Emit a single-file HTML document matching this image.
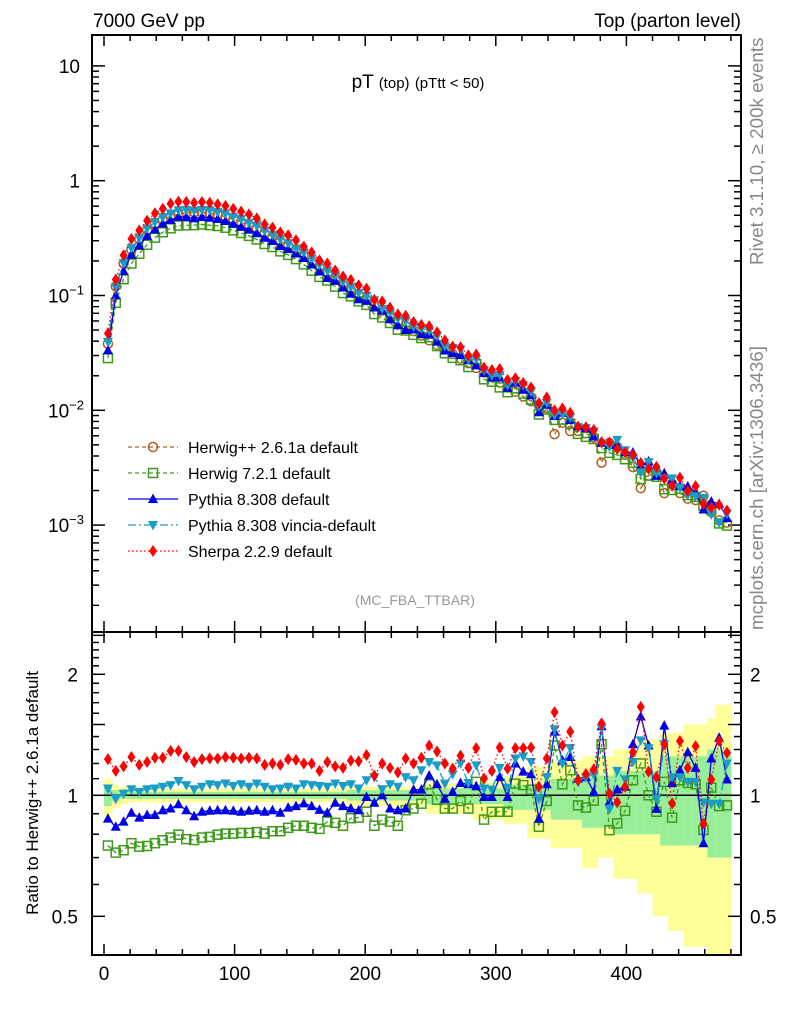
<!DOCTYPE html>
<html><head><meta charset="utf-8"><style>
html,body{margin:0;padding:0;background:#fff;}
svg{display:block;font-family:"Liberation Sans",sans-serif;}
</style></head><body>
<svg id="chart" width="786" height="1024" viewBox="0 0 786 1024" xmlns="http://www.w3.org/2000/svg">
<defs>
<clipPath id="clipMain"><rect x="92" y="35" width="649" height="597"/></clipPath>
<clipPath id="clipRatio"><rect x="92" y="632" width="649" height="323"/></clipPath>
</defs>
<rect x="0" y="0" width="786" height="1024" fill="#fff"/>
<g id="ratioBands" clip-path="url(#clipRatio)"></g>
<g id="axes"></g>
<g id="mainData" clip-path="url(#clipMain)"></g>
<g id="ratioData" clip-path="url(#clipRatio)"></g>
<text x="93" y="27" font-size="19">7000 GeV pp</text>
<text x="741" y="27" font-size="19" text-anchor="end">Top (parton level)</text>
<text x="418" y="88" font-size="19" text-anchor="middle">pT <tspan font-size="15">(top)</tspan> <tspan font-size="15">(pTtt &lt; 50)</tspan></text>
<text x="415" y="605" font-size="14" fill="#999" text-anchor="middle">(MC_FBA_TTBAR)</text>
<text transform="translate(763,265) rotate(-90)" font-size="18.8" fill="#888">Rivet 3.1.10, ≥ 200k events</text>
<text transform="translate(763,630) rotate(-90)" font-size="18.8" fill="#888">mcplots.cern.ch [arXiv:1306.3436]</text>
<text transform="translate(38,793) rotate(-90)" font-size="17" text-anchor="middle">Ratio to Herwig++ 2.6.1a default</text>
<g id="legend"></g>
</svg>
<script>
const NS="http://www.w3.org/2000/svg";
const binCenters=[3,9,15,21,27,33,39,45,51,57,63,69,75,81,87,93,99,105,111,117,123,129,135,141,147,153,159,165,171,177,183,189,195,201,207,213,219,225,231,237,243,249,255,261,267,273,279,285,291,297,303,309,315,321,327,333,339,345,351,357,363,369,375,381,387,393,399,405,411,417,423,429,435,441,447,453,459,465,471,477];
const herwigppValues=[0.038,0.12,0.19,0.25,0.31,0.37,0.42,0.46,0.49,0.51,0.525,0.53,0.53,0.52,0.505,0.485,0.46,0.435,0.41,0.38,0.35,0.325,0.298,0.272,0.247,0.222,0.198,0.176,0.157,0.14,0.125,0.112,0.101,0.091,0.082,0.074,0.067,0.06,0.054,0.049,0.0447,0.0407,0.0372,0.0339,0.0309,0.0282,0.0257,0.0234,0.0214,0.0195,0.0174,0.0158,0.0145,0.0132,0.012,0.011,0.0105,0.0062,0.0078,0.0066,0.0066,0.0063,0.0058,0.0035,0.0052,0.0048,0.0041,0.0032,0.0021,0.0027,0.0029,0.0019,0.0023,0.0019,0.0017,0.00165,0.0018,0.0013,0.0011,0.00105];
const sherpaRatio=[1.23,1.15,1.18,1.245,1.19,1.21,1.24,1.24,1.29,1.29,1.245,1.21,1.23,1.235,1.235,1.245,1.24,1.235,1.24,1.235,1.19,1.20,1.19,1.23,1.225,1.20,1.20,1.15,1.21,1.18,1.17,1.22,1.215,1.26,1.12,1.20,1.17,1.14,1.235,
1.20,1.24,1.33,1.285,1.20,1.165,1.255,1.17,1.31,1.10,1.15,1.315,1.165,1.31,1.31,1.315,1.05,1.235,1.61,1.33,1.44,1.09,1.13,1.16,1.51,1.01,0.96,1.05,1.28,1.66,1.145,1.11,1.34,0.955,1.365,1.17,1.325,0.85,1.095,1.365,1.275];
const vinciaRatio=[1.04,0.98,1.01,1.035,1.02,1.035,1.04,1.05,1.06,1.085,1.06,1.035,1.05,1.065,1.06,1.07,1.055,1.065,1.05,1.07,1.05,1.035,1.04,1.05,1.04,1.065,1.06,1.055,1.05,1.07,1.055,1.065,1.04,1.09,1.11,1.035,1.065,1.05,1.11,
1.09,1.154,1.21,1.187,1.069,1.128,1.2,1.073,1.187,1.04,1.033,1.17,1.045,1.235,1.25,1.21,0.98,1.11,1.46,1.2,1.31,1.08,1.11,1.128,1.47,0.925,1.15,1.095,1.21,1.37,1.31,0.98,1.34,1.11,1.11,1.08,1.08,0.96,0.953,0.953,1.2];
const pythiaRatio=[0.875,0.835,0.86,0.905,0.88,0.893,0.893,0.918,0.927,0.95,0.918,0.887,0.91,0.915,0.918,0.918,0.915,0.91,0.915,0.918,0.91,0.918,0.905,0.932,0.94,0.955,0.94,0.92,0.905,0.958,0.94,0.927,0.918,0.99,0.958,1.0,0.927,0.918,0.927,
1.033,1.033,1.12,1.065,0.98,1.02,1.073,1.065,1.053,0.99,0.99,1.11,0.99,1.2,1.145,1.128,0.875,1.065,1.44,1.22,1.245,1.10,1.11,1.02,1.485,0.964,1.033,1.05,1.34,1.57,1.33,0.925,1.49,1.073,1.154,1.28,1.17,0.76,1.235,1.39,1.095];
const herwig7Ratio=[0.75,0.72,0.73,0.76,0.745,0.748,0.76,0.773,0.785,0.798,0.778,0.774,0.785,0.788,0.798,0.803,0.803,0.806,0.806,0.81,0.803,0.814,0.814,0.83,0.84,0.84,0.83,0.825,0.86,0.854,0.84,0.877,0.88,0.91,0.84,0.87,0.86,0.84,0.918,
0.927,0.953,1.065,0.975,0.927,0.927,0.968,0.927,1.08,0.87,0.91,0.91,0.91,1.069,1.06,1.033,0.835,0.968,1.33,1.065,1.154,0.944,0.932,0.97,1.34,0.819,0.851,0.915,1.09,1.2,1.0,0.91,1.08,0.88,1.09,1.073,1.065,0.82,1.045,0.94,0.944];
const yellowHi=[1.1,1.06,1.05,1.04,1.04,1.04,1.04,1.04,1.04,1.04,1.04,1.04,1.04,1.04,1.04,1.04,1.04,1.04,1.04,1.04,1.04,1.04,1.04,1.04,1.04,1.04,1.04,1.04,1.04,1.04,1.04,1.05,1.05,1.05,1.05,1.05,1.05,1.05,1.05,1.05,1.05,1.07,1.07,1.07,1.07,1.07,1.07,1.08,1.08,1.08,1.08,1.12,1.12,1.12,1.18,1.18,1.18,1.22,1.22,1.22,1.22,1.25,1.25,1.25,1.25,1.3,1.3,1.3,1.38,1.38,1.38,1.43,1.43,1.43,1.5,1.5,1.5,1.55,1.68,1.68];
const yellowLo=[0.88,0.93,0.95,0.96,0.96,0.96,0.96,0.96,0.96,0.96,0.96,0.96,0.96,0.96,0.96,0.96,0.96,0.96,0.96,0.96,0.96,0.96,0.96,0.96,0.96,0.96,0.96,0.96,0.96,0.96,0.96,0.94,0.94,0.94,0.94,0.94,0.94,0.94,0.94,0.94,0.94,0.9,0.9,0.9,0.9,0.9,0.9,0.87,0.87,0.87,0.87,0.85,0.85,0.85,0.78,0.78,0.78,0.74,0.74,0.74,0.74,0.66,0.66,0.7,0.7,0.62,0.62,0.62,0.57,0.57,0.5,0.5,0.46,0.46,0.42,0.42,0.42,0.39,0.33,0.33];
const greenHi=[1.05,1.03,1.02,1.02,1.02,1.02,1.02,1.02,1.02,1.02,1.02,1.02,1.02,1.02,1.02,1.02,1.02,1.02,1.02,1.02,1.02,1.02,1.02,1.02,1.02,1.02,1.02,1.02,1.02,1.02,1.02,1.03,1.03,1.03,1.03,1.03,1.03,1.03,1.03,1.03,1.03,1.04,1.04,1.04,1.04,1.04,1.04,1.04,1.04,1.04,1.04,1.06,1.06,1.06,1.06,1.06,1.06,1.1,1.1,1.1,1.1,1.12,1.12,1.12,1.12,1.15,1.15,1.15,1.15,1.15,1.15,1.25,1.25,1.25,1.25,1.25,1.25,1.3,1.3,1.3];
const greenLo=[0.94,0.97,0.98,0.98,0.98,0.98,0.98,0.98,0.98,0.98,0.98,0.98,0.98,0.98,0.98,0.98,0.98,0.98,0.98,0.98,0.98,0.98,0.98,0.98,0.98,0.98,0.98,0.98,0.98,0.98,0.98,0.97,0.97,0.97,0.97,0.97,0.97,0.97,0.97,0.97,0.97,0.95,0.95,0.95,0.95,0.95,0.95,0.95,0.95,0.95,0.95,0.92,0.92,0.92,0.92,0.92,0.92,0.87,0.87,0.87,0.87,0.83,0.83,0.83,0.83,0.8,0.8,0.8,0.8,0.8,0.8,0.75,0.75,0.75,0.75,0.75,0.75,0.7,0.7,0.7];
const xTickLabels=[0,100,200,300,400];
const mainDecades=[-3,-2,-1,0,1];
const ratioTickLabels=[0.5,1,2];
const binWidth=6;

const L=92,R=741,MT=35,MB=632,RT=632,RB=955;
function xPos(v){return 104+1.306*v;}
function yMain(v){return 180.7-114.8*Math.log10(v);}
function yRatio(r){return 795.3-402*Math.log10(r);}
function mk(tag,attrs,parent){const e=document.createElementNS(NS,tag);for(const k in attrs)e.setAttribute(k,attrs[k]);parent.appendChild(e);return e;}

const axes=document.getElementById('axes');
let f1=mk('rect',{x:L,y:MT,width:R-L,height:MB-MT,fill:'none',stroke:'#000','stroke-width':2},axes);


let f2=mk('rect',{x:L,y:RT,width:R-L,height:RB-RT,fill:'none',stroke:'#000','stroke-width':2},axes);


for(let v=0;v<=480;v+=20){
  const X=xPos(v);const big=v%100===0;const len=big?11:6;
  [[MT,1],[MB,-1],[RT,1],[RB,-1]].forEach(([y0,d])=>{
    const t=mk('line',{x1:X,x2:X,y1:y0,y2:y0+d*len,stroke:'#000','stroke-width':1.5},axes);
    
    
  });
}
xTickLabels.forEach(v=>{
  const t=mk('text',{x:xPos(v),y:980,'font-size':19,'text-anchor':'middle'},axes);t.textContent=v;
  
  
});
for(let d=-4;d<=1;d++){for(let m=1;m<=9;m++){
  const v=m*Math.pow(10,d);const Y=yMain(v);if(Y<MT||Y>MB)continue;const len=m===1?13:7;
  [[L,1],[R,-1]].forEach(([x0,s])=>{
    const t=mk('line',{x1:x0,x2:x0+s*len,y1:Y,y2:Y,stroke:'#000','stroke-width':1.5},axes);
    
    
  });
}}
mainDecades.forEach(d=>{
  const Y=yMain(Math.pow(10,d))+7;
  const t=mk('text',{x:80,y:Y,'font-size':19,'text-anchor':'end'},axes);
  
  
  if(d===0)t.textContent='1';
  else if(d===1)t.textContent='10';
  else{t.textContent='10';const s=document.createElementNS(NS,'tspan');s.setAttribute('dy','-8');s.setAttribute('font-size','13');s.textContent='−'+(-d);t.appendChild(s);
    t.setAttribute('x',84);}
});
for(let k=4;k<=25;k++){
  const r=k/10;const Y=yRatio(r);if(Y<RT||Y>RB)continue;const big=(k%5===0);const len=big?13:7;
  [[L,1],[R,-1]].forEach(([x0,s])=>{
    const t=mk('line',{x1:x0,x2:x0+s*len,y1:Y,y2:Y,stroke:'#000','stroke-width':1.5},axes);
    
    
  });
}
ratioTickLabels.forEach(r=>{
  const Y=yRatio(r)+7;
  const a=mk('text',{x:78,y:Y,'font-size':19,'text-anchor':'end'},axes);a.textContent=r;
  
  
  const b=mk('text',{x:750,y:Y,'font-size':19},axes);b.textContent=r;
  
  
});
const bands=document.getElementById('ratioBands');
binCenters.forEach((c,i)=>{
  const x0=xPos(c-binWidth/2),x1=xPos(c+binWidth/2);
  const y=mk('rect',{x:x0,width:x1-x0+0.5,y:yRatio(yellowHi[i]),height:yRatio(yellowLo[i])-yRatio(yellowHi[i]),fill:'#ffff99'},bands);
  
  
  const g=mk('rect',{x:x0,width:x1-x0+0.5,y:yRatio(greenHi[i]),height:yRatio(greenLo[i])-yRatio(greenHi[i]),fill:'#99ee99'},bands);
  
  
});

const series=[
 {name:'herwigpp',label:'Herwig++ 2.6.1a default',color:'#b06020',dash:'4,3',marker:'circle',ratio:null},
 {name:'herwig7',label:'Herwig 7.2.1 default',color:'#3f9a1a',dash:'4,3',marker:'square',ratio:herwig7Ratio},
 {name:'pythia',label:'Pythia 8.308 default',color:'#0000e6',dash:'',marker:'up',ratio:pythiaRatio},
 {name:'vincia',label:'Pythia 8.308 vincia-default',color:'#1a9cc8',dash:'8,3,2,3',marker:'down',ratio:vinciaRatio},
 {name:'sherpa',label:'Sherpa 2.2.9 default',color:'#ff0000',dash:'1.5,2.5',marker:'diamond',ratio:sherpaRatio}
];
function marker(kind,x,y,color,parent,name){
  let e;const s=5;
  if(kind==='circle')e=mk('circle',{cx:x,cy:y,r:4.5,fill:'none',stroke:color,'stroke-width':1.5},parent);
  else if(kind==='square')e=mk('rect',{x:x-4.5,y:y-4.5,width:9,height:9,fill:'none',stroke:color,'stroke-width':1.5},parent);
  else if(kind==='up')e=mk('polygon',{points:`${x},${y-s-0.5} ${x-s},${y+s-1} ${x+s},${y+s-1}`,fill:color},parent);
  else if(kind==='down')e=mk('polygon',{points:`${x},${y+s+0.5} ${x-s},${y-s+1} ${x+s},${y-s+1}`,fill:color},parent);
  else e=mk('polygon',{points:`${x},${y-6} ${x-4},${y} ${x},${y+6} ${x+4},${y}`,fill:color},parent);
  
  
}
const mainG=document.getElementById('mainData'),ratioG=document.getElementById('ratioData');
const rl=mk('line',{x1:L,x2:R,y1:yRatio(1),y2:yRatio(1),stroke:'#000','stroke-width':1.5},ratioG);


series.forEach(s=>{
  const vals=herwigppValues.map((v,i)=>s.ratio?v*s.ratio[i]:v);
  const pts=binCenters.map((c,i)=>xPos(c)+','+yMain(vals[i])).join(' ');
  const pl=mk('polyline',{points:pts,fill:'none',stroke:s.color,'stroke-width':1.3,'stroke-dasharray':s.dash},mainG);
  
  
  binCenters.forEach((c,i)=>marker(s.marker,xPos(c),yMain(vals[i]),s.color,mainG,s.name+'-main-point'));
  if(s.ratio){
    const rp=binCenters.map((c,i)=>xPos(c)+','+yRatio(s.ratio[i])).join(' ');
    const rl2=mk('polyline',{points:rp,fill:'none',stroke:s.color,'stroke-width':1.3,'stroke-dasharray':s.dash},ratioG);
    
    
    binCenters.forEach((c,i)=>marker(s.marker,xPos(c),yRatio(s.ratio[i]),s.color,ratioG,s.name+'-ratio-point'));
  }
});
const lg=document.getElementById('legend');
series.forEach((s,i)=>{
  const y=447+i*26;
  const g=mk('g',{},lg);
  
  
  const ln=mk('line',{x1:128,x2:178,y1:y,y2:y,stroke:s.color,'stroke-width':1.3,'stroke-dasharray':s.dash},g);
  
  
  marker(s.marker,153,y,s.color,g,'legend-marker');
  const t=mk('text',{x:188,y:y+6,'font-size':16},g);t.textContent=s.label;
  
  
});
</script>
</body></html>
